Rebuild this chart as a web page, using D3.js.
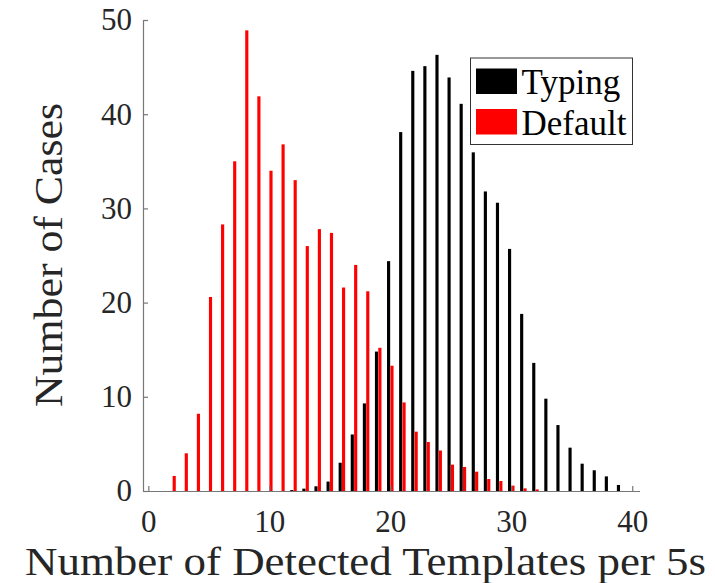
<!DOCTYPE html>
<html>
<head>
<meta charset="utf-8">
<script src="https://cdn.jsdelivr.net/npm/d3@7"></script>
<style>
    body { margin: 0; background: #fff; }
    .axis path, .axis line { stroke: #777; stroke-width: 1.2; }
</style>
</head>
<body>
<div id="chart-area"></div>
<script>
/*
*    histogram of detected templates
*/

// Data (counts per integer bin 0..40)
var bins = d3.range(0, 41);
var typing = [0, 0, 0, 0, 0, 0, 0, 0, 0, 0,
              0, 0, 0.1, 0.25, 0.5, 1.0, 3.0, 6.0, 9.3, 14.8,
              24.4, 38.1, 44.6, 45.1, 46.3, 43.9, 41.1, 35.95, 31.8, 30.6,
              25.7, 18.8, 13.6, 9.8, 7.0, 4.6, 2.9, 2.2, 1.55, 0.64,
              0];
var defaults = [0, 0, 1.6, 4.0, 8.2, 20.6, 28.3, 35.0, 48.9, 41.9,
                34.0, 36.8, 33.0, 26.0, 27.8, 27.4, 21.6, 24.0, 21.2, 15.2,
                13.3, 9.4, 6.3, 5.2, 4.3, 2.8, 2.55, 2.05, 1.27, 1.06,
                0.57, 0.28, 0.17, 0, 0, 0, 0, 0, 0, 0,
                0];
var seriesNames = ["Typing", "Default"];
var seriesColors = ["#000000", "#ff0000"];
var xTicks = [0, 10, 20, 30, 40];
var yTicks = [0, 10, 20, 30, 40, 50];

var serif = "'Liberation Serif', 'Times New Roman', serif";
var svgWidth = 715, svgHeight = 583;
var margin = { left: 143, right: 75.5, top: 20, bottom: 92 };

var svg = d3.select("#chart-area")
    .append("svg")
        .attr("width", svgWidth)
        .attr("height", svgHeight);

// Scales
var x = d3.scaleLinear()
    .domain([-0.44, 40.6])
    .range([margin.left, svgWidth - margin.right]);
var y = d3.scaleLinear()
    .domain([0, 50])
    .range([svgHeight - margin.bottom, margin.top]);

var barW = 0.26, offset = 0.14;

// Bars
var groups = [typing, defaults];
groups.forEach(function(values, i){
    var shift = (i == 0) ? -offset : offset;
    svg.append("g")
        .selectAll("rect")
        .data(bins.map(function(b){ return { bin: b, value: values[b] }; })
            .filter(function(d){ return d.value > 0; }))
        .enter()
        .append("rect")
            .attr("x", function(d){ return x(d.bin + shift - barW / 2); })
            .attr("width", function(d){ return x(barW) - x(0); })
            .attr("y", function(d){ return y(d.value); })
            .attr("height", function(d){ return y(0) - y(d.value); })
            .attr("fill", seriesColors[i]);
});

// X Axis
var xAxisCall = d3.axisBottom(x)
    .tickValues(xTicks)
    .tickSizeInner(-5)
    .tickSizeOuter(0)
    .tickFormat(d3.format("d"));
var xAxis = svg.append("g")
    .attr("class", "x axis")
    .attr("transform", "translate(0," + y(0) + ")")
    .call(xAxisCall);
xAxis.selectAll("text")
    .attr("y", 41)
    .attr("dy", null);

// Y Axis
var yAxisCall = d3.axisLeft(y)
    .tickValues(yTicks)
    .tickSizeInner(-5)
    .tickSizeOuter(0)
    .tickPadding(11);
svg.append("g")
    .attr("class", "y axis")
    .attr("transform", "translate(" + margin.left + ",0)")
    .call(yAxisCall);

svg.selectAll(".axis")
    .attr("font-family", serif)
    .attr("font-size", 31);
svg.selectAll(".axis text")
    .style("font-family", serif)
    .style("font-size", "31px")
    .attr("fill", "#262626");

// Labels
svg.append("text")
    .attr("x", 365.5)
    .attr("y", 575)
    .attr("text-anchor", "middle")
    .style("font-family", serif)
    .style("font-size", "41px")
    .attr("fill", "#262626")
    .attr("textLength", 681)
    .attr("lengthAdjust", "spacingAndGlyphs")
    .text("Number of Detected Templates per 5s");
svg.append("text")
    .attr("transform", "translate(62,255) rotate(-90)")
    .attr("text-anchor", "middle")
    .style("font-family", serif)
    .style("font-size", "41px")
    .attr("fill", "#262626")
    .attr("textLength", 304)
    .attr("lengthAdjust", "spacingAndGlyphs")
    .text("Number of Cases");

// Legend
var legend = svg.append("g")
    .attr("transform", "translate(470.5,58)");
legend.append("rect")
    .attr("width", 162)
    .attr("height", 86.5)
    .attr("fill", "#fff")
    .attr("stroke", "#333")
    .attr("stroke-width", 1);

seriesNames.forEach(function(name, i){
    var legendRow = legend.append("g")
        .attr("transform", "translate(0, " + (i * 40.5) + ")");

    legendRow.append("rect")
        .attr("x", 5.5)
        .attr("y", 10.5)
        .attr("width", 41)
        .attr("height", 25.5)
        .attr("fill", seriesColors[i]);

    legendRow.append("text")
        .attr("x", 51)
        .attr("y", 36)
        .style("font-family", serif)
        .style("font-size", "35px")
        .attr("fill", "#000")
        .text(name);
});
</script>
</body>
</html>
